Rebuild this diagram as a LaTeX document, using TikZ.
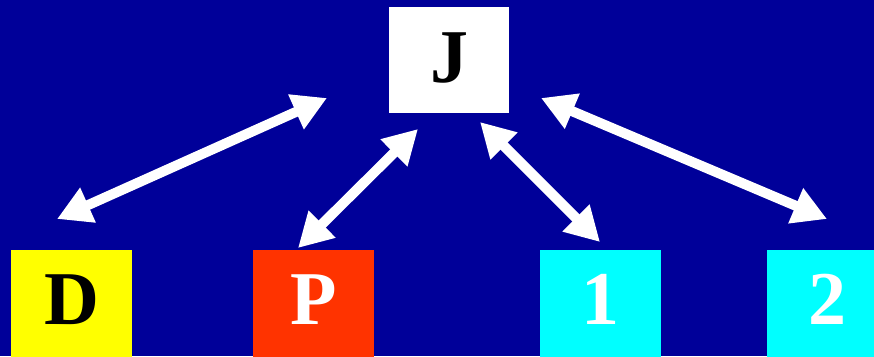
\documentclass[tikz,border=0pt]{standalone}
\usepackage{fontspec}
\setmainfont{Liberation Serif}
\usetikzlibrary{arrows.meta}
\definecolor{bgblue}{RGB}{0,0,153}
\definecolor{pred}{RGB}{255,51,0}
\definecolor{dyellow}{RGB}{255,255,0}
\definecolor{ccyan}{RGB}{0,255,255}
\begin{document}
\begin{tikzpicture}[x=1pt,y=-1pt,
  letterbox/.style={draw=none,inner sep=0pt,minimum width=121pt,anchor=north,
    font=\fontsize{76}{76}\selectfont\bfseries},
  lowbox/.style={letterbox,text height=74pt,text depth=47pt},
  topbox/.style={letterbox,minimum width=120pt,text height=75pt,text depth=31pt},
  dblarrow/.style={draw=white,line width=10pt,
    {Triangle[length=34pt,width=36pt]}-{Triangle[length=34pt,width=36pt]}}]
\useasboundingbox[fill=bgblue] (0,0) rectangle (874,356);
\begin{scope}
\clip (0,0) rectangle (874,356);
\node[topbox,fill=white,text=black] (J) at (449,7) {J};
\node[lowbox,fill=dyellow,text=black] (D) at (71.5,250) {D};
\node[lowbox,fill=pred,text=white] (P) at (313.5,250) {P};
\node[lowbox,fill=ccyan,text=white] (one) at (600.5,250) {1};
\node[lowbox,fill=ccyan,text=white] (two) at (827.5,250) {2};
\end{scope}
\coordinate (aD1) at (57,219);
\coordinate (aD2) at (327,98);
\coordinate (aP1) at (298,248);
\coordinate (aP2) at (418,129);
\coordinate (a11) at (480,122);
\coordinate (a12) at (600,242);
\coordinate (a21) at (541,98);
\coordinate (a22) at (827,219);
\draw[dblarrow] (aD1) -- (aD2);
\draw[dblarrow] (aP1) -- (aP2);
\draw[dblarrow] (a11) -- (a12);
\draw[dblarrow] (a21) -- (a22);
\end{tikzpicture}
\end{document}
